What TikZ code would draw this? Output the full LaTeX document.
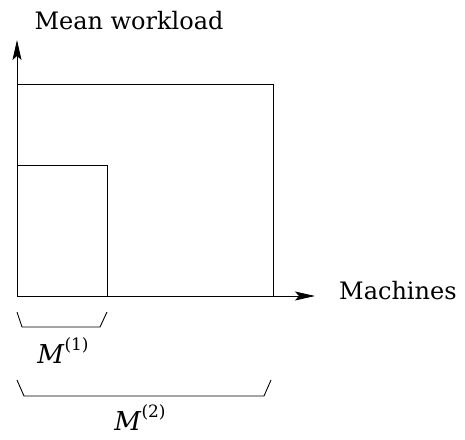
\documentclass[tikz,border=0pt]{standalone}
\usepackage{fontspec}
\setmainfont{DejaVu Serif}
\usetikzlibrary{arrows.meta}
\begin{document}
\begin{tikzpicture}[x=1pt,y=-1pt,
  axis/.style={line width=0.9pt,-{Stealth[length=20pt,width=9pt,inset=4pt]}},
  box/.style={line width=1pt},
  brace/.style={line width=0.9pt},
  lbl/.style={font=\fontsize{24}{28}\selectfont,inner sep=0pt},
  sub/.style={font=\fontsize{26}{30}\selectfont,inner sep=0pt}]
\useasboundingbox (0,0) rectangle (465,439);
\coordinate (O) at (17,296);
\coordinate (ytop) at (17,40);
\coordinate (xend) at (315,296);
\draw[axis] (O) -- (ytop);
\draw[axis] (O) -- (xend);
\draw[box] (17,84) -- (273,84) -- (273,296);
\draw[box] (17,165) -- (107,165) -- (107,296);
\draw[brace] (17,312) -- (22,327) -- (100,327) -- (107,312);
\draw[brace] (17,380) -- (24,396) -- (264,396) -- (271,380);
\node[lbl] (ylab) at (129,21) {Mean workload};
\node[lbl,anchor=west] (xlab) at (339,291) {Machines};
\node[sub] (m1) at (63,351) {\textit{M}\raisebox{0.5em}{\fontsize{17}{20}\selectfont(1)}};
\node[sub] (m2) at (140,418) {\textit{M}\raisebox{0.5em}{\fontsize{17}{20}\selectfont(2)}};
\end{tikzpicture}
\end{document}
